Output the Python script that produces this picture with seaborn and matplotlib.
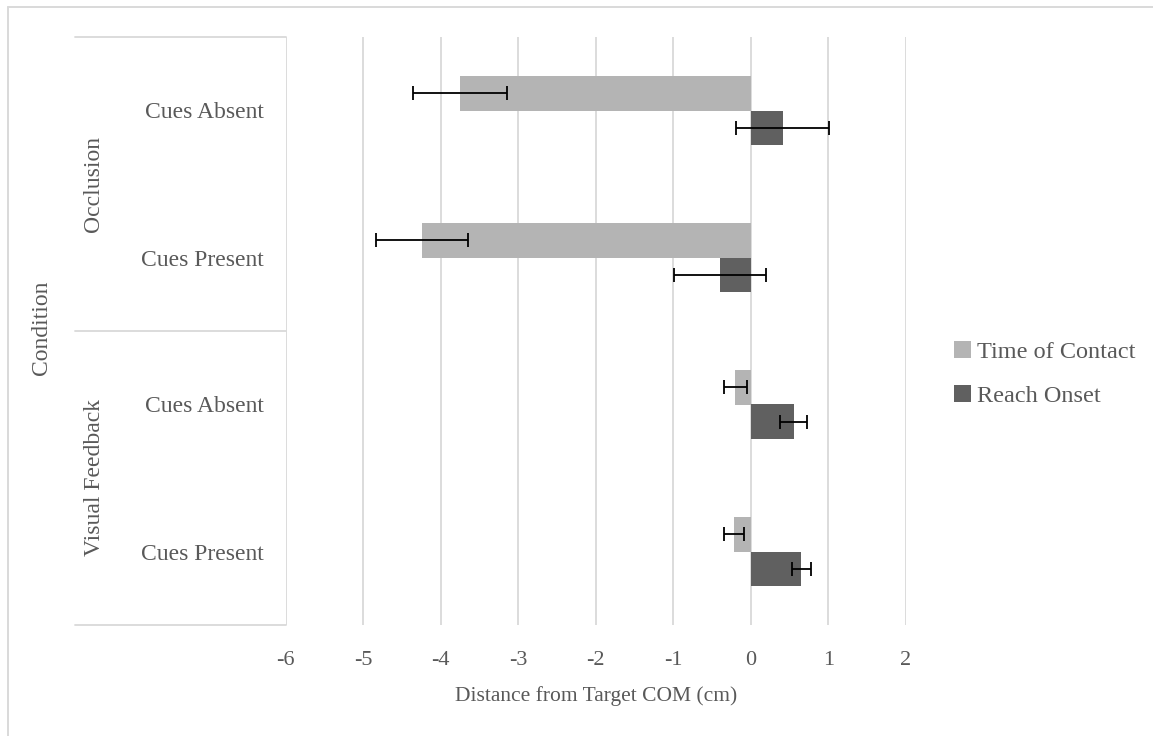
import matplotlib
matplotlib.use("Agg")
import matplotlib.pyplot as plt
import matplotlib.transforms as mtransforms
from matplotlib.lines import Line2D
import numpy as np
import pandas as pd
import seaborn as sns

# ---- data -------------------------------------------------------------
groups = ["Occlusion", "Occlusion", "Visual Feedback", "Visual Feedback"]
cues = ["Cues Absent", "Cues Present", "Cues Absent", "Cues Present"]
series = ["Time of Contact", "Reach Onset"]
toc_mean = [-3.75, -4.24, -0.20, -0.22]
toc_err = [0.61, 0.59, 0.15, 0.13]
reach_mean = [0.41, -0.40, 0.55, 0.65]
reach_err = [0.60, 0.59, 0.17, 0.12]
x_ticks = [-6, -5, -4, -3, -2, -1, 0, 1, 2]

colors = {"Time of Contact": "#B4B4B4", "Reach Onset": "#606060"}
grid_c = "#D9D9D9"
text_c = "#595959"

keys = [f"{g}|{c}" for g, c in zip(groups, cues)]
df = pd.DataFrame({
    "condition": keys * 2,
    "series": [series[0]] * 4 + [series[1]] * 4,
    "value": toc_mean + reach_mean,
})
means = {series[0]: toc_mean, series[1]: reach_mean}
errors = {series[0]: toc_err, series[1]: reach_err}

# ---- figure -------------------------------------------------------------
sns.set_theme(style="white")
plt.rcParams["font.family"] = ["Liberation Serif", "DejaVu Serif"]

W, H = 1153, 736
fig = plt.figure(figsize=(W / 100, H / 100), dpi=100)
x0, x1, y0, y1 = 285.7, 906.0, 37.0, 625.0
ax = fig.add_axes([x0 / W, 1 - y1 / H, (x1 - x0) / W, (y1 - y0) / H])

sns.barplot(data=df, x="value", y="condition", hue="series",
            order=keys, hue_order=series, palette=colors,
            orient="h", width=0.476, errorbar=None, linewidth=0,
            legend=True, ax=ax, zorder=2)

# error bars at the end of each bar, on the bar's centre line
for name, cont in zip(series, ax.containers):
    ys = [p.get_y() + p.get_height() / 2 for p in cont.patches]
    ax.errorbar(means[name], ys, xerr=errors[name], fmt="none",
                ecolor="black", elinewidth=1.3, capsize=4.7, capthick=1.3,
                zorder=3)

ax.set_xlim(-6, 2)
ax.set_ylim(3.5, -0.5)
ax.set_xticks(x_ticks)
ax.set_xticklabels([str(t) for t in x_ticks])
ax.grid(axis="x", color=grid_c, linewidth=1.3, zorder=0)
ax.grid(axis="y", visible=False)
for s in ax.spines.values():
    s.set_visible(False)

ax.tick_params(axis="x", length=0, pad=19, labelsize=16, labelcolor=text_c)
ax.tick_params(axis="y", length=0, pad=16, labelsize=17, labelcolor=text_c)
ax.set_yticks(range(len(keys)))
ax.set_yticklabels(cues)
ax.set_ylabel("")
ax.set_xlabel("Distance from Target COM (cm)", fontsize=15.5, color=text_c,
              labelpad=11)

# two-level category axis: separators and group labels
trans = mtransforms.blended_transform_factory(ax.transAxes, ax.transData)
left_frac = (75 - x0) / (x1 - x0)
for yb in [-0.5, 1.5, 3.5]:
    ax.plot([left_frac, 0], [yb, yb], color=grid_c, lw=1.3,
            transform=trans, clip_on=False, zorder=1)
gx = (94 - x0) / (x1 - x0)
for gname, yc in [("Occlusion", 0.5), ("Visual Feedback", 2.5)]:
    ax.text(gx, yc, gname, transform=trans, rotation=90, ha="center",
            va="center", fontsize=17, color=text_c)

fig.text(41 / W, 1 - 328 / H, "Condition", rotation=90, ha="center",
         va="center", fontsize=17, color=text_c)

# legend on the right
handles, labels = ax.get_legend_handles_labels()
ax.get_legend().remove()
fig.legend(handles, labels, loc="center left",
           bbox_to_anchor=(954 / W, 1 - 374 / H), frameon=False,
           fontsize=17.5, labelcolor=text_c, handlelength=0.7,
           handleheight=0.7, handletextpad=0.25, labelspacing=0.9,
           borderpad=0, borderaxespad=0)

# chart-area border
fig.add_artist(Line2D([8 / W, 1], [1 - 7 / H, 1 - 7 / H], color=grid_c,
                      lw=1.4, transform=fig.transFigure))
fig.add_artist(Line2D([8 / W, 8 / W], [0, 1 - 7 / H], color=grid_c,
                      lw=1.4, transform=fig.transFigure))

fig.savefig("out.png", dpi=100, facecolor="white")
